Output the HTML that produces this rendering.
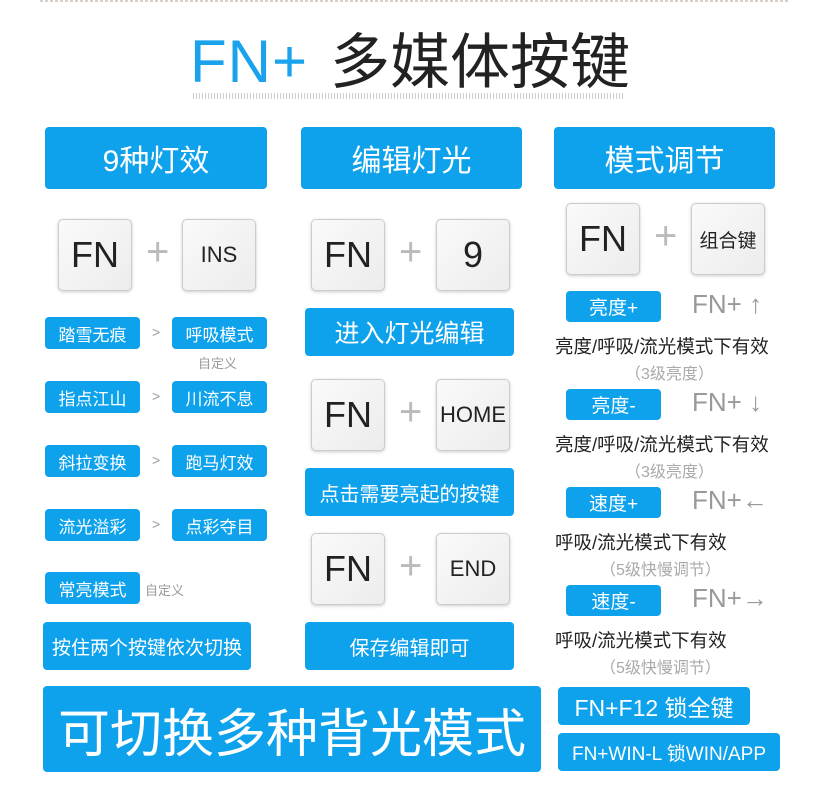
<!DOCTYPE html>
<html><head><meta charset="utf-8"><style>
*{margin:0;padding:0;box-sizing:border-box}
body{width:815px;height:801px;background:#fff;position:relative;overflow:hidden;font-family:"Liberation Sans","Noto Sans CJK SC",sans-serif}
.a{position:absolute}
.b{position:absolute;background:#0ea2ec;color:#fff;border-radius:4px;display:flex;align-items:center;justify-content:center;white-space:nowrap}
.k{position:absolute;width:74px;height:72px;border:1px solid #ccc;border-radius:5px;background:linear-gradient(135deg,#fafafa,#ececec);box-shadow:0 1px 3px #ccc;display:flex;align-items:center;justify-content:center;color:#222;font-size:36px}
.p{position:absolute;color:#bbb;font-size:40px;font-weight:300}
.g{position:absolute;color:#999;font-size:14px}
.s{position:absolute;color:#999;font-size:26px}
.t{position:absolute;color:#222;font-size:18.5px;white-space:nowrap}
.q{position:absolute;color:#aaa;font-size:16px;white-space:nowrap}
</style></head><body>
<div class="a" style="left:40px;top:0;width:750px;height:2px;background:repeating-linear-gradient(90deg,#d9cfc8 0 3px,#fff 3px 5px)"></div>
<div class="a" style="left:190px;top:27px;font-size:60px;color:#1aa3ec;letter-spacing:1px">FN+</div>
<div class="a" style="left:330px;top:14px;font-size:60px;color:#222">多媒体按键</div>
<div class="a" style="left:193px;top:93px;width:430px;height:6px;background:repeating-linear-gradient(90deg,#ccc 0 1px,#fff 1px 3px)"></div>

<div class="b" style="left:45px;top:127px;width:222px;height:62px;font-size:30px">9种灯效</div>
<div class="b" style="left:301px;top:127px;width:221px;height:62px;font-size:30px">编辑灯光</div>
<div class="b" style="left:554px;top:127px;width:221px;height:62px;font-size:30px">模式调节</div>

<div class="k" style="left:58px;top:219px">FN</div><div class="p" style="left:146px;top:230px">+</div><div class="k" style="left:182px;top:219px;font-size:22px">INS</div>
<div class="b" style="left:45px;top:317px;width:95px;height:32px;font-size:17px">踏雪无痕</div><div class="g" style="left:152px;top:324px">&gt;</div><div class="b" style="left:172px;top:317px;width:95px;height:32px;font-size:17px">呼吸模式</div>
<div class="g" style="left:198px;top:353px;font-size:13px">自定义</div>
<div class="b" style="left:45px;top:381px;width:95px;height:32px;font-size:17px">指点江山</div><div class="g" style="left:152px;top:388px">&gt;</div><div class="b" style="left:172px;top:381px;width:95px;height:32px;font-size:17px">川流不息</div>
<div class="b" style="left:45px;top:445px;width:95px;height:32px;font-size:17px">斜拉变换</div><div class="g" style="left:152px;top:452px">&gt;</div><div class="b" style="left:172px;top:445px;width:95px;height:32px;font-size:17px">跑马灯效</div>
<div class="b" style="left:45px;top:509px;width:95px;height:32px;font-size:17px">流光溢彩</div><div class="g" style="left:152px;top:516px">&gt;</div><div class="b" style="left:172px;top:509px;width:95px;height:32px;font-size:17px">点彩夺目</div>
<div class="b" style="left:45px;top:572px;width:95px;height:32px;font-size:17px">常亮模式</div><div class="g" style="left:145px;top:580px;font-size:13px">自定义</div>
<div class="b" style="left:43px;top:622px;width:208px;height:48px;font-size:19px">按住两个按键依次切换</div>
<div class="b" style="left:43px;top:686px;width:498px;height:86px;font-size:52px">可切换多种背光模式</div>

<div class="k" style="left:311px;top:219px">FN</div><div class="p" style="left:399px;top:230px">+</div><div class="k" style="left:436px;top:219px">9</div>
<div class="b" style="left:305px;top:308px;width:209px;height:48px;font-size:25px">进入灯光编辑</div>
<div class="k" style="left:311px;top:379px">FN</div><div class="p" style="left:399px;top:390px">+</div><div class="k" style="left:436px;top:379px;font-size:22px">HOME</div>
<div class="b" style="left:305px;top:468px;width:209px;height:48px;font-size:20px">点击需要亮起的按键</div>
<div class="k" style="left:311px;top:533px">FN</div><div class="p" style="left:399px;top:544px">+</div><div class="k" style="left:436px;top:533px;font-size:22px">END</div>
<div class="b" style="left:305px;top:622px;width:209px;height:48px;font-size:20px">保存编辑即可</div>

<div class="k" style="left:566px;top:203px">FN</div><div class="p" style="left:654px;top:214px">+</div><div class="k" style="left:691px;top:203px;font-size:19px">组合键</div>

<div class="b" style="left:566px;top:291px;width:95px;height:31px;font-size:19px">亮度+</div><div class="s" style="left:692px;top:289px">FN+ ↑</div>
<div class="t" style="left:555px;top:333px">亮度/呼吸/流光模式下有效</div><div class="q" style="left:625px;top:360px">（3级亮度）</div>
<div class="b" style="left:566px;top:389px;width:95px;height:31px;font-size:19px">亮度-</div><div class="s" style="left:692px;top:387px">FN+ ↓</div>
<div class="t" style="left:555px;top:431px">亮度/呼吸/流光模式下有效</div><div class="q" style="left:625px;top:458px">（3级亮度）</div>
<div class="b" style="left:566px;top:487px;width:95px;height:31px;font-size:19px">速度+</div><div class="s" style="left:692px;top:485px">FN+←</div>
<div class="t" style="left:555px;top:529px">呼吸/流光模式下有效</div><div class="q" style="left:600px;top:556px">（5级快慢调节）</div>
<div class="b" style="left:566px;top:585px;width:95px;height:31px;font-size:19px">速度-</div><div class="s" style="left:692px;top:583px">FN+→</div>
<div class="t" style="left:555px;top:627px">呼吸/流光模式下有效</div><div class="q" style="left:600px;top:654px">（5级快慢调节）</div>

<div class="b" style="left:558px;top:687px;width:192px;height:38px;font-size:23px">FN+F12 锁全键</div>
<div class="b" style="left:558px;top:733px;width:222px;height:38px;font-size:19px">FN+WIN-L 锁WIN/APP</div>
</body></html>
